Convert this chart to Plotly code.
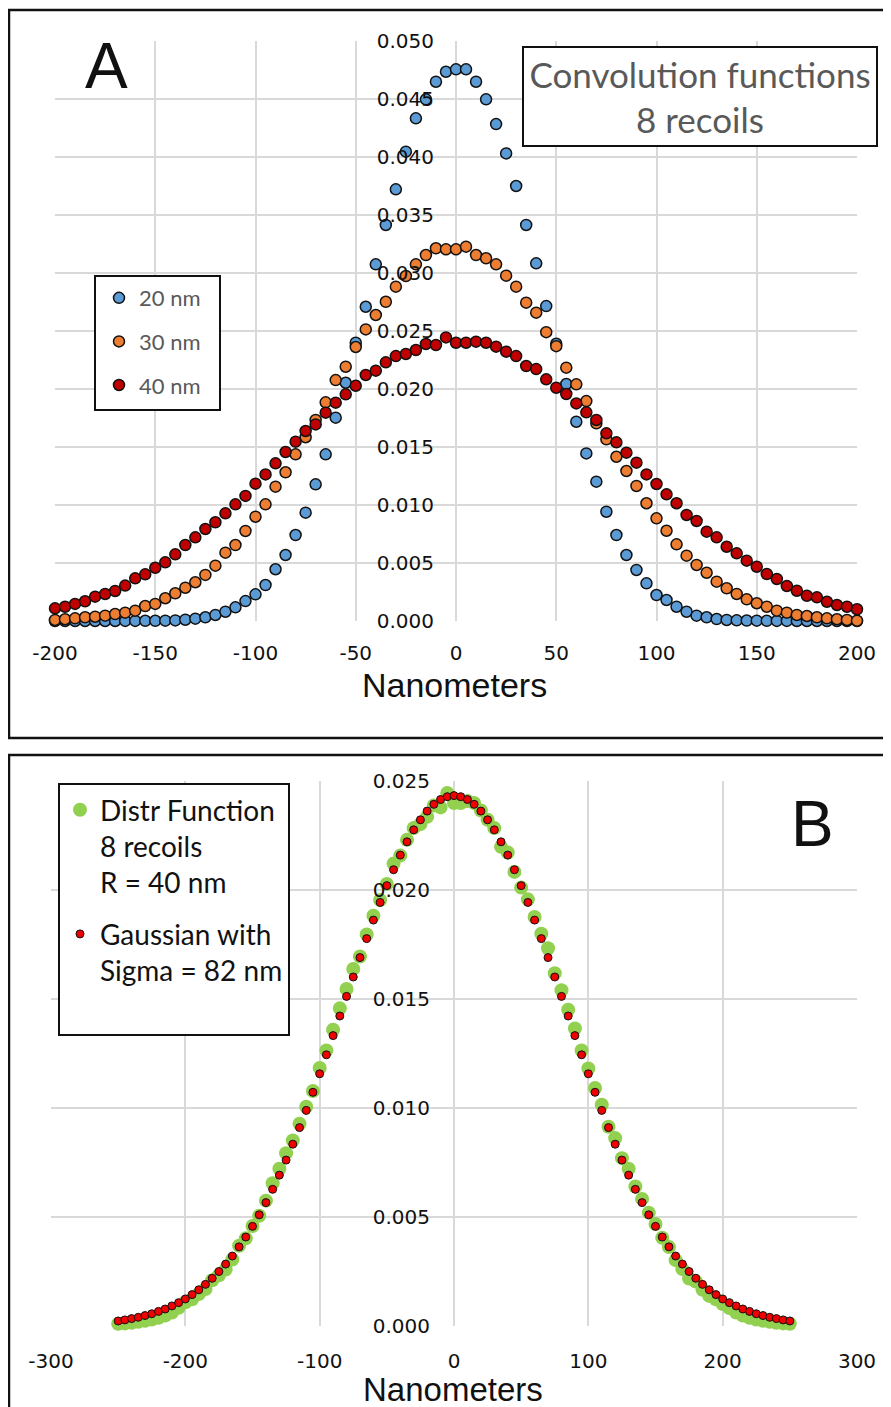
import plotly.graph_objects as go

# the page body has an 8px margin, so the figure is 8px smaller and all
# pixel positions below are given in screen coordinates
OFF = 8
W, H = 891 - OFF, 1407 - OFF

# ---- Panel A: convolution functions, 8 recoils ----
x_a = list(range(-200, 205, 5))

y_20nm = [
    0.0, 0.0, 0.0, 0.0, 0.0, 0.0, 0.0, 0.00001, 0.00001, 0.00002,
    0.00002, 0.00003, 0.00005, 0.00011, 0.00020, 0.00032, 0.00052, 0.00080, 0.00118, 0.00172,
    0.00230, 0.00310, 0.00446, 0.00569, 0.00741, 0.00934, 0.01178, 0.01437, 0.01753, 0.02054,
    0.02399, 0.02709, 0.03075, 0.03414, 0.03721, 0.04046, 0.04333, 0.04497, 0.04649, 0.04735,
    0.04756, 0.04756, 0.04649, 0.04497, 0.04284, 0.04031, 0.03750, 0.03414, 0.03083, 0.02715,
    0.02390, 0.02043, 0.01718, 0.01445, 0.01201, 0.00942, 0.00741, 0.00569, 0.00440, 0.00325,
    0.00224, 0.00181, 0.00123, 0.00080, 0.00046, 0.00032, 0.00017, 0.00009, 0.00006, 0.00004,
    0.00003, 0.00002, 0.00001, 0.00001, 0.0, 0.0, 0.0, 0.0, 0.0, 0.0,
    0.0,
]

y_30nm = [
    0.00009, 0.00015, 0.00023, 0.00032, 0.00037, 0.00046, 0.00060, 0.00072, 0.00089, 0.00129,
    0.00147, 0.00196, 0.00239, 0.00287, 0.00334, 0.00397, 0.00477, 0.00589, 0.00655, 0.00776,
    0.00899, 0.01006, 0.01158, 0.01282, 0.01437, 0.01584, 0.01733, 0.01885, 0.02077, 0.02192,
    0.02362, 0.02514, 0.02638, 0.02752, 0.02882, 0.02974, 0.03075, 0.03155, 0.03213, 0.03204,
    0.03204, 0.03227, 0.03155, 0.03127, 0.03075, 0.02977, 0.02882, 0.02744, 0.02658, 0.02490,
    0.02369, 0.02184, 0.02040, 0.01896, 0.01704, 0.01566, 0.01416, 0.01293, 0.01164, 0.01015,
    0.00885, 0.00778, 0.00661, 0.00563, 0.00483, 0.00416, 0.00339, 0.00282, 0.00233, 0.00187,
    0.00153, 0.00123, 0.00089, 0.00072, 0.00052, 0.00043, 0.00032, 0.00023, 0.00015, 0.00009,
    0.00003,
]

y_40nm = [
    0.00109, 0.00123, 0.00147, 0.00170, 0.00210, 0.00233, 0.00259, 0.00305, 0.00368, 0.00402,
    0.00459, 0.00506, 0.00575, 0.00655, 0.00721, 0.00793, 0.00851, 0.00928, 0.01006, 0.01078,
    0.01184, 0.01264, 0.01359, 0.01457, 0.01546, 0.01638, 0.01695, 0.01796, 0.01882, 0.01954,
    0.02028, 0.02121, 0.02158, 0.02230, 0.02284, 0.02302, 0.02336, 0.02388, 0.02379, 0.02445,
    0.02399, 0.02399, 0.02408, 0.02399, 0.02365, 0.02322, 0.02284, 0.02198, 0.02172, 0.02083,
    0.02011, 0.01957, 0.01876, 0.01799, 0.01733, 0.01618, 0.01540, 0.01451, 0.01365, 0.01264,
    0.01181, 0.01092, 0.01015, 0.00914, 0.00862, 0.00770, 0.00721, 0.00640, 0.00583, 0.00520,
    0.00468, 0.00405, 0.00362, 0.00302, 0.00261, 0.00218, 0.00204, 0.00166, 0.00138, 0.00123,
    0.00101,
]

# ---- Panel B: distribution function vs Gaussian (sigma = 82 nm) ----
x_b = list(range(-250, 255, 5))

y_distr = [
    0.00010, 0.00012, 0.00015, 0.00019, 0.00024, 0.00030, 0.00038, 0.00048, 0.00062, 0.00084,
    0.00109, 0.00123, 0.00147, 0.00170, 0.00210, 0.00233, 0.00259, 0.00305, 0.00368, 0.00402,
    0.00459, 0.00506, 0.00575, 0.00655, 0.00721, 0.00793, 0.00851, 0.00928, 0.01006, 0.01078,
    0.01184, 0.01264, 0.01359, 0.01457, 0.01546, 0.01638, 0.01695, 0.01796, 0.01882, 0.01954,
    0.02028, 0.02121, 0.02158, 0.02230, 0.02284, 0.02302, 0.02336, 0.02388, 0.02379, 0.02445,
    0.02399, 0.02399, 0.02408, 0.02399, 0.02365, 0.02322, 0.02284, 0.02198, 0.02172, 0.02083,
    0.02011, 0.01957, 0.01876, 0.01799, 0.01733, 0.01618, 0.01540, 0.01451, 0.01365, 0.01264,
    0.01181, 0.01092, 0.01015, 0.00914, 0.00862, 0.00770, 0.00721, 0.00640, 0.00583, 0.00520,
    0.00468, 0.00405, 0.00362, 0.00302, 0.00261, 0.00218, 0.00204, 0.00166, 0.00138, 0.00123,
    0.00101, 0.00082, 0.00062, 0.00048, 0.00038, 0.00030, 0.00024, 0.00019, 0.00015, 0.00012,
    0.00010,
]

y_gauss = [
    0.00023, 0.00028, 0.00034, 0.00040, 0.00048, 0.00056, 0.00067, 0.00078, 0.00092, 0.00107,
    0.00124, 0.00144, 0.00166, 0.00191, 0.00219, 0.00250, 0.00284, 0.00321, 0.00363, 0.00408,
    0.00457, 0.00510, 0.00566, 0.00627, 0.00692, 0.00761, 0.00834, 0.00910, 0.00989, 0.01072,
    0.01157, 0.01244, 0.01332, 0.01422, 0.01512, 0.01601, 0.01690, 0.01777, 0.01862, 0.01943,
    0.02020, 0.02093, 0.02160, 0.02221, 0.02276, 0.02322, 0.02362, 0.02393, 0.02415, 0.02428,
    0.02433, 0.02428, 0.02415, 0.02393, 0.02362, 0.02322, 0.02276, 0.02221, 0.02160, 0.02093,
    0.02020, 0.01943, 0.01862, 0.01777, 0.01690, 0.01601, 0.01512, 0.01422, 0.01332, 0.01244,
    0.01157, 0.01072, 0.00989, 0.00910, 0.00834, 0.00761, 0.00692, 0.00627, 0.00566, 0.00510,
    0.00457, 0.00408, 0.00363, 0.00321, 0.00284, 0.00250, 0.00219, 0.00191, 0.00166, 0.00144,
    0.00124, 0.00107, 0.00092, 0.00078, 0.00067, 0.00056, 0.00048, 0.00040, 0.00034, 0.00028,
    0.00023,
]

x_ticks_a = [-200, -150, -100, -50, 0, 50, 100, 150, 200]
x_ticks_b = [-300, -200, -100, 0, 100, 200, 300]


def px(p):
    return (p - OFF) / W


def py(p):
    return 1 - (p - OFF) / H


GRID = "#D9D9D9"
TICK_FONT = dict(family="DejaVu Sans", size=20, color="#111111")
LEG_FONT = "Lato"

fig = go.Figure()

series_a = [
    ("20 nm", y_20nm, "#5B9BD5"),
    ("30 nm", y_30nm, "#ED7D31"),
    ("40 nm", y_40nm, "#C00000"),
]
for name, ys, color in series_a:
    fig.add_trace(
        go.Scatter(
            x=x_a,
            y=ys,
            mode="markers",
            name=name,
            legendgroup=name,
            legend="legend",
            cliponaxis=False,
            marker=dict(size=11, color=color, line=dict(color="#111111", width=1.5)),
            xaxis="x",
            yaxis="y",
        )
    )

fig.add_trace(
    go.Scatter(
        x=x_b,
        y=y_distr,
        mode="markers",
        name="Distr Function<br>8 recoils<br>R = 40 nm",
        legendgroup="distr",
        legend="legend2",
        cliponaxis=False,
        marker=dict(size=14, color="#92D050"),
        xaxis="x2",
        yaxis="y2",
    )
)
fig.add_trace(
    go.Scatter(
        x=x_b,
        y=y_gauss,
        mode="markers",
        name="Gaussian with<br>Sigma = 82 nm",
        legendgroup="gauss",
        legend="legend2",
        cliponaxis=False,
        marker=dict(size=8, color="#F00000", line=dict(color="#111111", width=1)),
        xaxis="x2",
        yaxis="y2",
    )
)

axis_common = dict(
    showgrid=True,
    gridcolor=GRID,
    gridwidth=1.5,
    zeroline=False,
    showline=False,
    ticks="",
    automargin=False,
    tickfont=TICK_FONT,
)

shapes = [
    # panel frames
    dict(type="rect", xref="paper", yref="paper", x0=px(9), x1=px(905),
         y0=py(10), y1=py(738), line=dict(color="#111111", width=2.5)),
    dict(type="rect", xref="paper", yref="paper", x0=px(9), x1=px(905),
         y0=py(755), y1=py(1425), line=dict(color="#111111", width=2.5)),
    # legend boxes
    dict(type="rect", xref="paper", yref="paper", layer="above",
         x0=px(95), x1=px(220), y0=py(276), y1=py(410),
         fillcolor="white", line=dict(color="#111111", width=2)),
    dict(type="rect", xref="paper", yref="paper", layer="above",
         x0=px(59), x1=px(289), y0=py(784), y1=py(1035),
         fillcolor="white", line=dict(color="#111111", width=2)),
]


def label(text, x, y, size, family="Liberation Sans", color="#111111", **kw):
    return dict(text=text, x=px(x), y=py(y), xref="paper", yref="paper",
                xanchor="center", yanchor="middle", showarrow=False,
                font=dict(family=family, size=size, color=color), **kw)


annotations = [
    label("A", 106, 66, 64),
    label("B", 812, 824, 64),
    label("Nanometers", 454, 685, 34),
    label("Nanometers", 453, 1389, 33),
    label("Convolution functions<br>8 recoils", 699.5, 96, 35, family=LEG_FONT,
          color="#595959", width=352, height=97, borderpad=0,
          bgcolor="white", bordercolor="#111111", borderwidth=2),
]

fig.update_layout(
    template="none",
    width=W,
    height=H,
    margin=dict(l=0, r=0, t=0, b=0, autoexpand=False),
    paper_bgcolor="white",
    plot_bgcolor="white",
    showlegend=True,
    xaxis=dict(
        domain=[px(55), px(857)],
        range=[-200, 200],
        tickvals=x_ticks_a,
        ticktext=[str(v) for v in x_ticks_a],
        anchor="y",
        ticklabelstandoff=18,
        **axis_common,
    ),
    yaxis=dict(
        domain=[py(621), py(41)],
        range=[0, 0.05],
        dtick=0.005,
        tick0=0,
        tickformat=".3f",
        anchor="free",
        position=px(456),
        ticklabelstandoff=22,
        **axis_common,
    ),
    xaxis2=dict(
        domain=[px(51), px(857)],
        range=[-300, 300],
        tickvals=x_ticks_b,
        ticktext=[str(v) for v in x_ticks_b],
        anchor="y2",
        ticklabelstandoff=21,
        **axis_common,
    ),
    yaxis2=dict(
        domain=[py(1326), py(781)],
        range=[0, 0.025],
        dtick=0.005,
        tick0=0,
        tickformat=".3f",
        anchor="free",
        position=px(454),
        ticklabelstandoff=24,
        **axis_common,
    ),
    legend=dict(
        x=px(99), y=py(277), xanchor="left", yanchor="top",
        bgcolor="rgba(0,0,0,0)", borderwidth=0,
        font=dict(family=LEG_FONT, size=22, color="#595959"),
        tracegroupgap=12,
        itemsizing="trace",
    ),
    legend2=dict(
        x=px(60), y=py(785), xanchor="left", yanchor="top",
        bgcolor="rgba(0,0,0,0)", borderwidth=0,
        font=dict(family=LEG_FONT, size=28, color="#111111"),
        tracegroupgap=12,
        valign="top",
        itemsizing="trace",
    ),
    shapes=shapes,
    annotations=annotations,
)

fig.write_html("out.html")
